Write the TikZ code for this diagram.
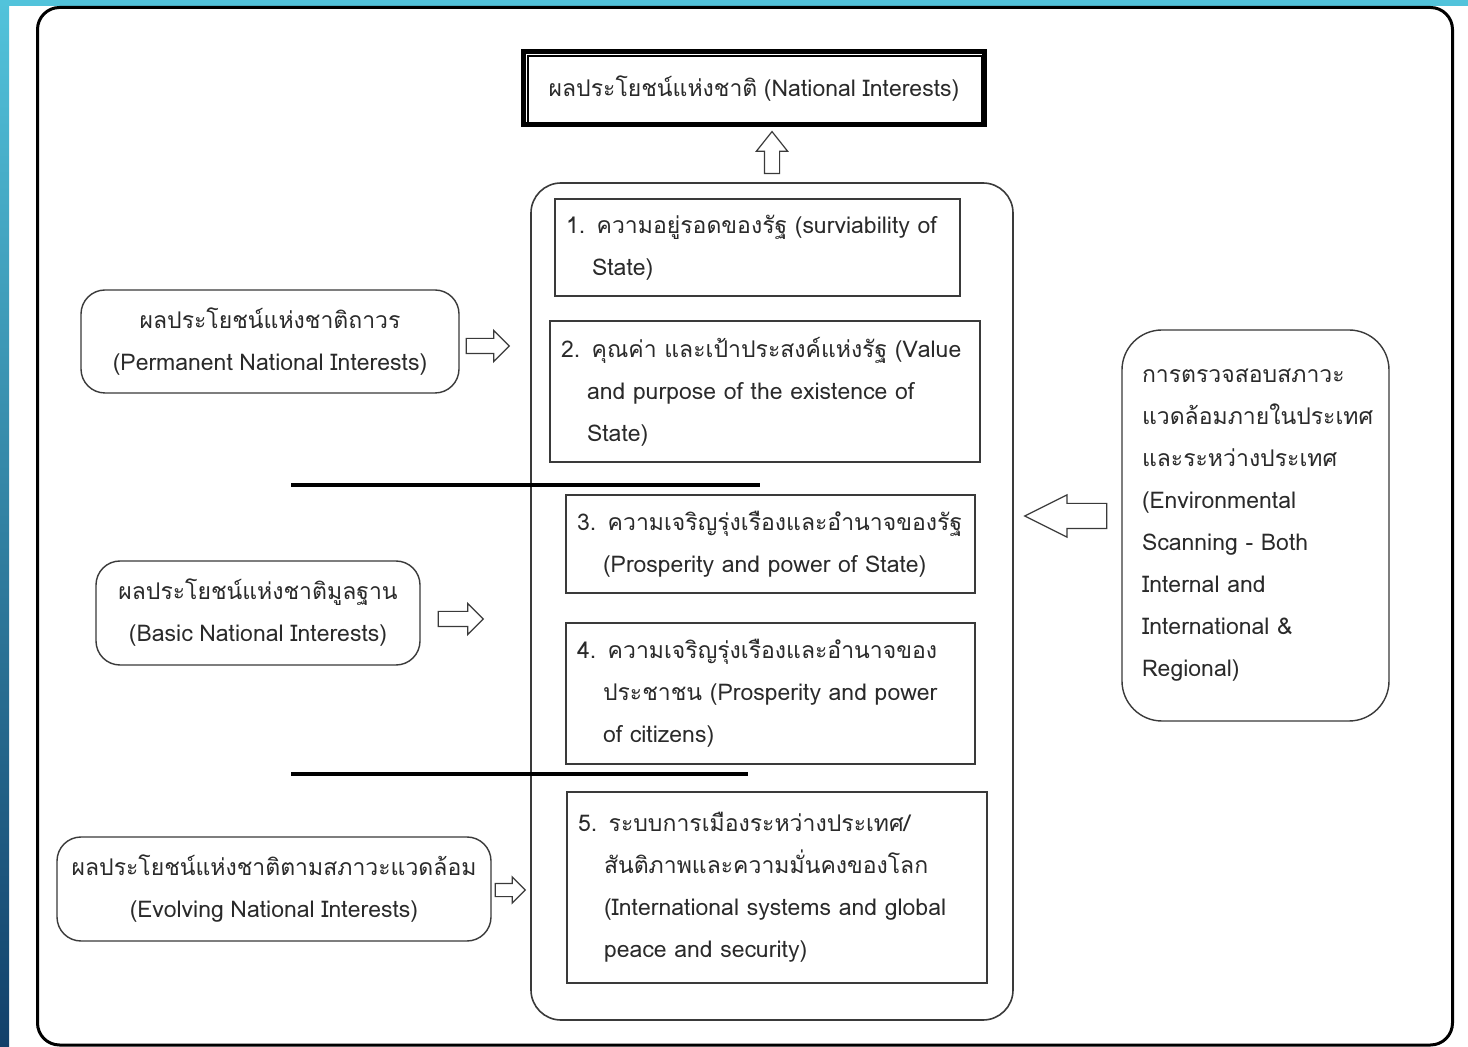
\documentclass[tikz,border=0pt]{standalone}
\usepackage{fontspec}
\usepackage{xcolor}
\usepackage{tikz}
\usetikzlibrary{positioning,calc,shapes.arrows}
\newfontfamily\thaifont[Script=Thai,WordSpace=0.85]{Loma}
\definecolor{slideCyan}{HTML}{52C3DB}
\definecolor{slideNavy}{HTML}{12406A}
\definecolor{diagInk}{HTML}{2A2A2A}
\definecolor{diagLine}{HTML}{3A3A3A}
\tikzset{
  itemBox/.style={
    draw=diagLine,
    line width=0.7pt,
    align=left,
    inner xsep=5.5pt,
    inner ysep=0pt,
    text=diagInk
  },
  kindBox/.style={
    draw=diagLine,
    rounded corners=12pt,
    line width=0.7pt,
    align=center,
    inner sep=0pt,
    text=diagInk
  },
  blockArrow/.style={
    single arrow, draw=diagLine, fill=white, line width=0.6pt,
    inner xsep=0pt, minimum width=0pt, minimum height=#1, anchor=tail
  },
  dividerLine/.style={line width=2pt, draw=black}
}
\newcommand{\hangin}{\hspace*{13pt}}

\begin{document}
\begin{tikzpicture}[x=0.5pt, y=-0.5pt,
    font=\thaifont\fontsize{11.5}{21}\selectfont]
    \useasboundingbox (0,0) rectangle (1468,1047);
    \fill[white] (0,0) rectangle (1468,1047);
    \shade[top color=slideCyan, bottom color=slideNavy] (0,0) rectangle (9,1047);
    \fill[slideCyan] (0,0) rectangle (1468,6);
    \draw[line width=1.5pt, rounded corners=11pt] (37.5,7.5) rectangle (1452.5,1045);

    \node[draw, line width=2.5pt, minimum width=230.5pt, minimum height=36.5pt,
      inner sep=0pt, text=diagInk] (nation) at (754,88.5)
      {ผลประโยชน์แห่งชาติ (National Interests)};
    \draw[line width=0.6pt] ($(nation.north west)+(7,6.5)$)
      rectangle ($(nation.south east)+(-5,-5)$);

    \node[draw=diagLine, line width=0.8pt, rounded corners=15pt,
      minimum width=241pt, minimum height=418.5pt] (core) at (772,601.5) {};

    \node[itemBox, minimum width=202.5pt, minimum height=48.5pt,
      text width=191.5pt] (survive) at (757.5,247.5)
      {1. ความอยู่รอดของรัฐ (surviability of\\\hangin State)};
    \node[itemBox, minimum width=215pt, minimum height=70.5pt,
      text width=204pt] (value) at (765,391.5)
      {2. คุณค่า และเป้าประสงค์แห่งรัฐ (Value\\\hangin and purpose of the existence of\\\hangin State)};
    \node[itemBox, minimum width=204.5pt, minimum height=49pt,
      text width=193.5pt] (stateWealth) at (770.5,544)
      {3. ความเจริญรุ่งเรืองและอำนาจของรัฐ\\\hangin (Prosperity and power of State)};
    \node[itemBox, minimum width=204.5pt, minimum height=70.5pt,
      text width=193.5pt] (peopleWealth) at (770.5,693.5)
      {4. ความเจริญรุ่งเรืองและอำนาจของ\\\hangin ประชาชน (Prosperity and power\\\hangin of citizens)};
    \node[itemBox, minimum width=210pt, minimum height=95.5pt,
      text width=199pt] (worldOrder) at (777,887.5)
      {5. ระบบการเมืองระหว่างประเทศ/\\\hangin สันติภาพและความมั่นคงของโลก\\\hangin (International systems and global\\\hangin peace and security)};

    \node[kindBox, minimum width=189pt, minimum height=51.5pt] (permanent)
      at (270,341.5) {ผลประโยชน์แห่งชาติถาวร\\(Permanent National Interests)};
    \node[kindBox, minimum width=162pt, minimum height=52pt] (basic)
      at (258,613) {ผลประโยชน์แห่งชาติมูลฐาน\\(Basic National Interests)};
    \node[kindBox, minimum width=217pt, minimum height=52pt] (evolving)
      at (274,889) {ผลประโยชน์แห่งชาติตามสภาวะแวดล้อม\\(Evolving National Interests)};

    \node[kindBox, rounded corners=20pt, align=left, inner xsep=10pt,
      minimum width=133.5pt, minimum height=195.5pt, text width=113.5pt]
      (scan) at (1255.5,525.5)
      {การตรวจสอบสภาวะ\\แวดล้อมภายในประเทศ\\และระหว่างประเทศ\\(Environmental\\Scanning - Both\\Internal and\\International \&\\Regional)};

    \node[blockArrow=21pt, inner ysep=3.5pt, single arrow head extend=4pt,
      single arrow tip angle=77, rotate=90] (toNation) at ($(core.north)+(0,-8)$) {};
    \node[blockArrow=21.5pt, inner ysep=3.5pt, single arrow head extend=4pt]
      (fromPermanent) at ($(permanent.east)+(6,4.5)$) {};
    \node[blockArrow=22.5pt, inner ysep=3.5pt, single arrow head extend=4pt]
      (fromBasic) at ($(basic.east)+(17,6)$) {};
    \node[blockArrow=15pt, inner ysep=3pt, single arrow head extend=3.25pt]
      (fromEvolving) at ($(evolving.east)+(3,1)$) {};
    \node[blockArrow=41pt, inner ysep=6pt, single arrow head extend=4.25pt,
      single arrow tip angle=53, rotate=180] (fromScan) at ($(scan.west)+(-14,-9.5)$) {};

    \coordinate (cutOneL) at (291,485);
    \coordinate (cutOneR) at (760,485);
    \coordinate (cutTwoL) at (291,774);
    \coordinate (cutTwoR) at (748,774);
    \draw[dividerLine] (cutOneL) -- (cutOneR);
    \draw[dividerLine] (cutTwoL) -- (cutTwoR);
\end{tikzpicture}
\end{document}
